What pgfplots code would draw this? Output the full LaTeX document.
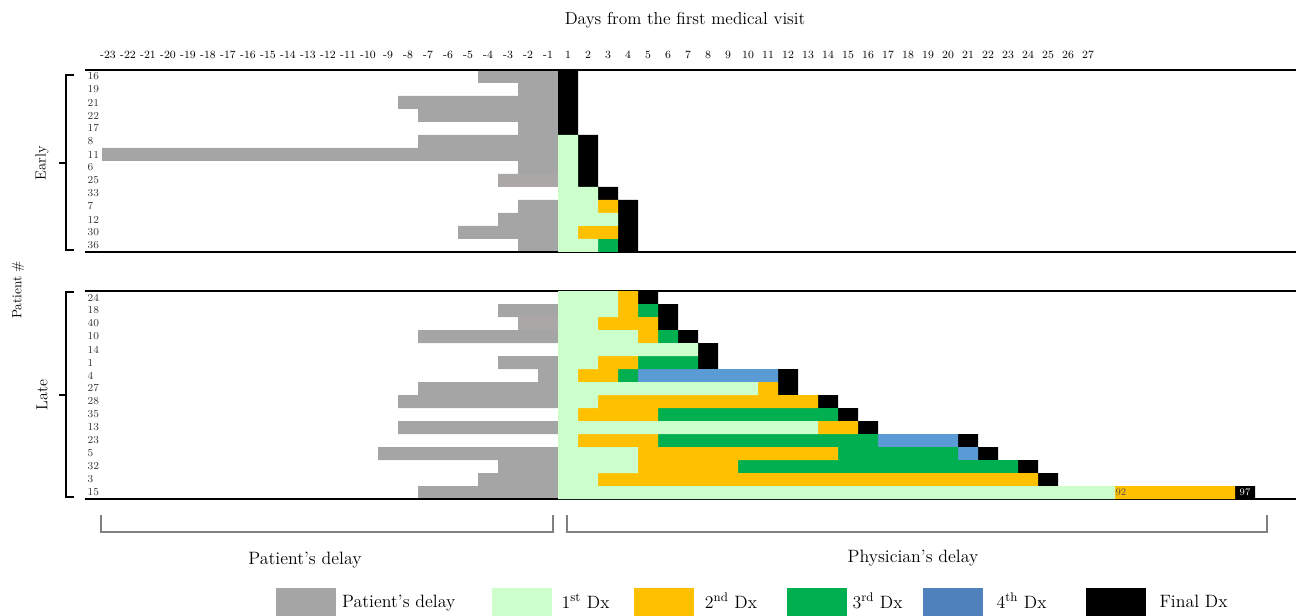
\documentclass[border=0pt]{standalone}
\usepackage{pgfplots}
\pgfplotsset{compat=1.18}
\usepackage{pgfplotstable}
\definecolor{pgray}{HTML}{A5A5A5}
\definecolor{pgrayb}{HTML}{ABA7A7}
\definecolor{lgreen}{HTML}{CCFFCC}
\definecolor{dorange}{HTML}{FFC000}
\definecolor{dgreen}{HTML}{00B050}
\definecolor{dblue}{HTML}{5B9BD5}
\definecolor{lblue}{HTML}{4F81BD}
\definecolor{bgray}{HTML}{808080}

% row pd = patient's delay (days, negative), pdl = same in lighter grey
% lg = 1st Dx, or = 2nd Dx, gr = 3rd Dx, bl = 4th Dx, bk = final Dx (lengths in days)
\pgfplotstableread{
row pd pdl lg or gr bl bk
1 -4 0 0 0 0 0 1
2 -2 0 0 0 0 0 1
3 -8 0 0 0 0 0 1
4 -7 0 0 0 0 0 1
5 -2 0 0 0 0 0 1
6 -7 0 1 0 0 0 1
7 -22.8 0 1 0 0 0 1
8 -2 0 1 0 0 0 1
9 0 -3 1 0 0 0 1
10 0 0 2 0 0 0 1
11 -2 0 2 1 0 0 1
12 -3 0 3 0 0 0 1
13 -5 0 1 2 0 0 1
14 -2 0 2 0 1 0 1
}\earlydata

\pgfplotstableread{
row pd pdl lg or gr bl bk
1 0 0 3 1 0 0 1
2 -3 0 3 1 1 0 1
3 0 -2 2 3 0 0 1
4 -7 0 4 1 1 0 1
5 0 0 7 0 0 0 1
6 -3 0 2 2 3 0 1
7 -1 0 1 2 1 7 1
8 -7 0 10 1 0 0 1
9 -8 0 2 11 0 0 1
10 0 0 1 4 9 0 1
11 -8 0 13 2 0 0 1
12 0 0 1 4 11 4 1
13 -9 0 4 10 6 1 1
14 -3 0 4 5 14 0 1
15 -4 0 2 22 0 0 1
16 -7 0 27.85 6 0 0 1
}\latedata

\pgfplotsset{
  common/.style={
    scale only axis, width=908.25pt,
    xmin=-23.65, xmax=36.9,
    y dir=reverse,
    axis line style={draw=none},
    major tick length=0pt, minor tick length=0pt,
    tick style={draw=none},
    clip=false,
  },
  earlygeo/.style={at={(63.75pt,-52.5pt)}, anchor=north west, height=136.5pt, ymin=0.5, ymax=14.5},
  lategeo/.style={at={(63.75pt,-218.25pt)}, anchor=north west, height=156pt, ymin=0.5, ymax=16.5},
  rowlab/.style={yticklabel style={anchor=west, xshift=-1.5pt, font=\fontsize{8}{9}\selectfont, text=black!80}},
  seg/.style={draw=none, bar width=1, bar shift=0pt},
}

\begin{document}
\begin{tikzpicture}
\useasboundingbox (0pt,0pt) rectangle (972pt,-462pt);

% ---------- EARLY: patient's delay ----------
\begin{axis}[common, earlygeo, rowlab,
  ytick={1,2,3,4,5,6,7,8,9,10,11,12,13,14},
  yticklabels={16,19,21,22,17,8,11,6,25,33,7,12,30,36},
  xtick={-22.5,-21.5,-20.5,-19.5,-18.5,-17.5,-16.5,-15.5,-14.5,-13.5,-12.5,-11.5,-10.5,-9.5,-8.5,-7.5,-6.5,-5.5,-4.5,-3.5,-2.5,-1.5,-0.5,0.5,1.5,2.5,3.5,4.5,5.5,6.5,7.5,8.5,9.5,10.5,11.5,12.5,13.5,14.5,15.5,16.5,17.5,18.5,19.5,20.5,21.5,22.5,23.5,24.5,25.5,26.5},
  xticklabels={-23,-22,-21,-20,-19,-18,-17,-16,-15,-14,-13,-12,-11,-10,-9,-8,-7,-6,-5,-4,-3,-2,-1,1,2,3,4,5,6,7,8,9,10,11,12,13,14,15,16,17,18,19,20,21,22,23,24,25,26,27},
  xticklabel pos=upper,
  xticklabel style={font=\fontsize{8.3}{9}\selectfont, yshift=5pt},
]
\addplot[xbar, seg, fill=pgray] table[x=pd, y=row]{\earlydata};
\addplot[xbar, seg, fill=pgrayb] table[x=pdl, y=row]{\earlydata};
\end{axis}

% ---------- EARLY: physician's delay ----------
\begin{axis}[common, earlygeo, hide axis, xbar stacked]
\addplot[seg, fill=lgreen] table[x=lg, y=row]{\earlydata};
\addplot[seg, fill=dorange] table[x=or, y=row]{\earlydata};
\addplot[seg, fill=dgreen] table[x=gr, y=row]{\earlydata};
\addplot[seg, fill=dblue] table[x=bl, y=row]{\earlydata};
\addplot[seg, fill=black] table[x=bk, y=row]{\earlydata};
\draw[line width=2pt] (rel axis cs:0,0) -- (rel axis cs:1,0);
\draw[line width=2pt] (rel axis cs:0,1) -- (rel axis cs:1,1);
\end{axis}

% ---------- LATE: patient's delay ----------
\begin{axis}[common, lategeo, rowlab,
  ytick={1,2,3,4,5,6,7,8,9,10,11,12,13,14,15,16},
  yticklabels={24,18,40,10,14,1,4,27,28,35,13,23,5,32,3,15},
  xtick=\empty,
]
\addplot[xbar, seg, fill=pgray] table[x=pd, y=row]{\latedata};
\addplot[xbar, seg, fill=pgrayb] table[x=pdl, y=row]{\latedata};
\end{axis}

% ---------- LATE: physician's delay + legend ----------
\begin{axis}[common, lategeo, hide axis, xbar stacked,
  legend columns=6,
  legend image code/.code={\fill[#1] (0pt,-10.5pt) rectangle (45pt,10.5pt);},
  legend style={at={(0.1577,-0.4952)}, anchor=west, draw=none, fill=none,
    inner sep=0pt, column sep=0pt, row sep=0pt,
    nodes={inner sep=0pt, anchor=west},
    font=\fontsize{13.4}{15}\selectfont},
]
\addlegendimage{fill=pgray, draw=none}
\addlegendentry{\makebox[117pt][l]{\hspace{4.5pt}Patient's delay}}
\addlegendimage{fill=lgreen, draw=none}
\addlegendentry{\makebox[61.5pt][l]{\hspace{7pt}1\textsuperscript{st} Dx}}
\addlegendimage{fill=dorange, draw=none}
\addlegendentry{\makebox[69.75pt][l]{\hspace{8pt}2\textsuperscript{nd} Dx}}
\addlegendimage{fill=dgreen, draw=none}
\addlegendentry{\makebox[57pt][l]{\hspace{4pt}3\textsuperscript{rd} Dx}}
\addlegendimage{fill=lblue, draw=none}
\addlegendentry{\makebox[77.25pt][l]{\hspace{10pt}4\textsuperscript{th} Dx}}
\addlegendimage{fill=black, draw=none}
\addlegendentry{\makebox[60pt][l]{\hspace{10pt}Final Dx}}
\addplot[seg, fill=lgreen, forget plot] table[x=lg, y=row]{\latedata};
\addplot[seg, fill=dorange, forget plot] table[x=or, y=row]{\latedata};
\addplot[seg, fill=dgreen, forget plot] table[x=gr, y=row]{\latedata};
\addplot[seg, fill=dblue, forget plot] table[x=bl, y=row]{\latedata};
\addplot[seg, fill=black, forget plot] table[x=bk, y=row]{\latedata};
\draw[line width=2pt] (rel axis cs:0,0) -- (rel axis cs:1,0);
\draw[line width=2pt] (rel axis cs:0,1) -- (rel axis cs:1,1);
\end{axis}

% ---------- annotations ----------
\node[anchor=west, inner sep=0.3pt, font=\fontsize{7.5}{8}\selectfont, text=black!70] at (836.25pt,-369.4pt) {92};
\node[inner sep=0pt, font=\fontsize{7.5}{8}\selectfont, text=white] at (933.75pt,-369.4pt) {97};

\node[font=\fontsize{13}{15}\selectfont] at (513.75pt,-15pt) {Days from the first medical visit};

\draw[line width=1pt] (55.5pt,-56.25pt) -- (49.5pt,-56.25pt) -- (49.5pt,-187.5pt) -- (55.5pt,-187.5pt);
\draw[line width=1.5pt] (44.25pt,-122.25pt) -- (49.5pt,-122.25pt);
\draw[line width=1pt] (55.5pt,-219pt) -- (49.5pt,-219pt) -- (49.5pt,-372.75pt) -- (55.5pt,-372.75pt);
\draw[line width=1.5pt] (44.25pt,-296.25pt) -- (49.5pt,-296.25pt);

\node[rotate=90, font=\fontsize{11}{13}\selectfont] at (31.5pt,-122.25pt) {Early};
\node[rotate=90, font=\fontsize{12}{14}\selectfont] at (31.5pt,-296.25pt) {Late};
\node[rotate=90, font=\fontsize{10}{12}\selectfont] at (13.5pt,-217.5pt) {Patient \#};

\draw[bgray, line width=2.2pt] (75.75pt,-386.25pt) -- (75.75pt,-399pt) -- (414.75pt,-399pt) -- (414.75pt,-386.25pt);
\draw[bgray, line width=2.2pt] (425.25pt,-386.25pt) -- (425.25pt,-399pt) -- (950.25pt,-399pt) -- (950.25pt,-386.25pt);
\node[font=\fontsize{13.4}{15}\selectfont] at (228.75pt,-420pt) {Patient's delay};
\node[font=\fontsize{13.4}{15}\selectfont] at (684.75pt,-418.5pt) {Physician's delay};
\end{tikzpicture}
\end{document}
